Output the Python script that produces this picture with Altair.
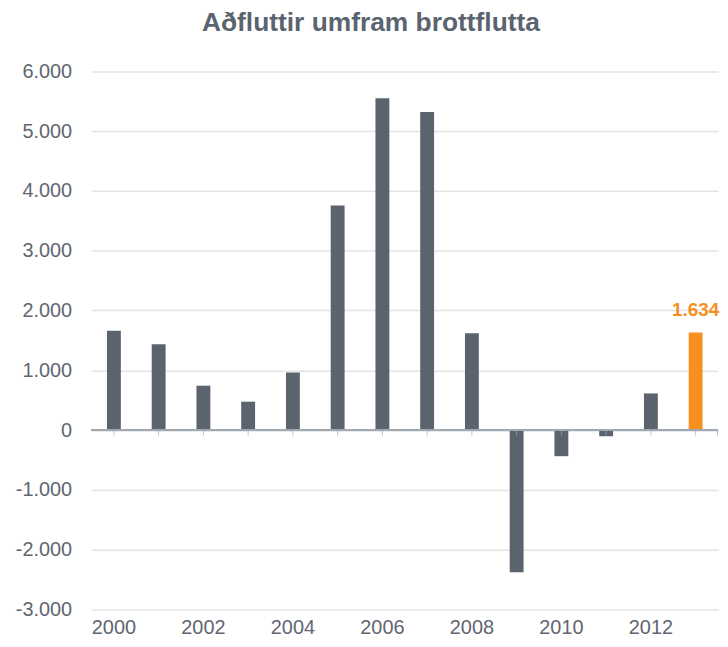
import altair as alt
import pandas as pd

years = ["2000", "2001", "2002", "2003", "2004", "2005", "2006",
         "2007", "2008", "2009", "2010", "2011", "2012", "2013"]
values = [1660, 1436, 742, 475, 963, 3758, 5553, 5320, 1620, -2380, -437, -103, 613, 1634]
label_years = ["2000", "2002", "2004", "2006", "2008", "2010", "2012"]
y_ticks = [-3000, -2000, -1000, 0, 1000, 2000, 3000, 4000, 5000, 6000]
highlight_year = "2013"

df = pd.DataFrame({"year": years, "value": values})

FONT = "Liberation Sans"
TXT = "#5f6670"
BAR = "#5a636e"
ORANGE = "#f7901e"
AXIS = "#a0a8b2"

x_enc = alt.X(
    "year:O",
    scale=alt.Scale(paddingInner=0.69, paddingOuter=0.345),
    axis=alt.Axis(values=label_years, title=None, labelAngle=0, domain=False,
                  ticks=False, labelPadding=8, labelFontSize=20,
                  labelColor=TXT, labelFont=FONT, grid=False),
)
y_enc = alt.Y(
    "value:Q",
    scale=alt.Scale(domain=[-3000, 6000], nice=False, zero=False),
    axis=alt.Axis(values=y_ticks, title=None, domain=False, ticks=False,
                  labelPadding=20, labelFontSize=20, labelColor=TXT, labelFont=FONT,
                  labelExpr="(datum.value < 0 ? '-' : '') + replace(format(abs(datum.value), ','), ',', '.')",
                  gridColor="#e4e4e4", gridWidth=1.5, minExtent=84),
)

base = alt.Chart(df)

bars = base.mark_bar().encode(
    x=x_enc,
    y=y_enc,
    color=alt.condition(alt.datum.year == highlight_year, alt.value(ORANGE), alt.value(BAR)),
)

zero = base.mark_rule(color=AXIS, strokeWidth=2).encode(y=alt.datum(0))

ticks = base.mark_tick(orient="vertical", size=5, thickness=1, yOffset=3, color=AXIS).encode(
    x="year:O", y=alt.datum(0)
)
end_tick = base.transform_filter(alt.datum.year == highlight_year).mark_tick(
    orient="vertical", size=5, thickness=1, yOffset=3, xOffset=22, color=AXIS
).encode(x="year:O", y=alt.datum(0))

label = base.transform_filter(alt.datum.year == highlight_year).transform_calculate(
    lbl="replace(format(datum.value, ','), ',', '.')"
).mark_text(dy=-16, fontSize=19, fontWeight="bold", font=FONT, color=ORANGE,
            baseline="alphabetic").encode(x="year:O", y="value:Q", text="lbl:N")

chart = alt.layer(bars, zero, ticks, end_tick, label).properties(
    width=630,
    height=541,
    padding=0,
    title=alt.TitleParams("Aðfluttir umfram brottflutta", fontSize=26.5, font=FONT,
                          fontWeight="bold", color="#5a6470", anchor="middle",
                          baseline="top", dx=-34, offset=25),
).configure_view(stroke=None)

chart.save("out.html", embed_options={"renderer": "svg", "actions": False})
